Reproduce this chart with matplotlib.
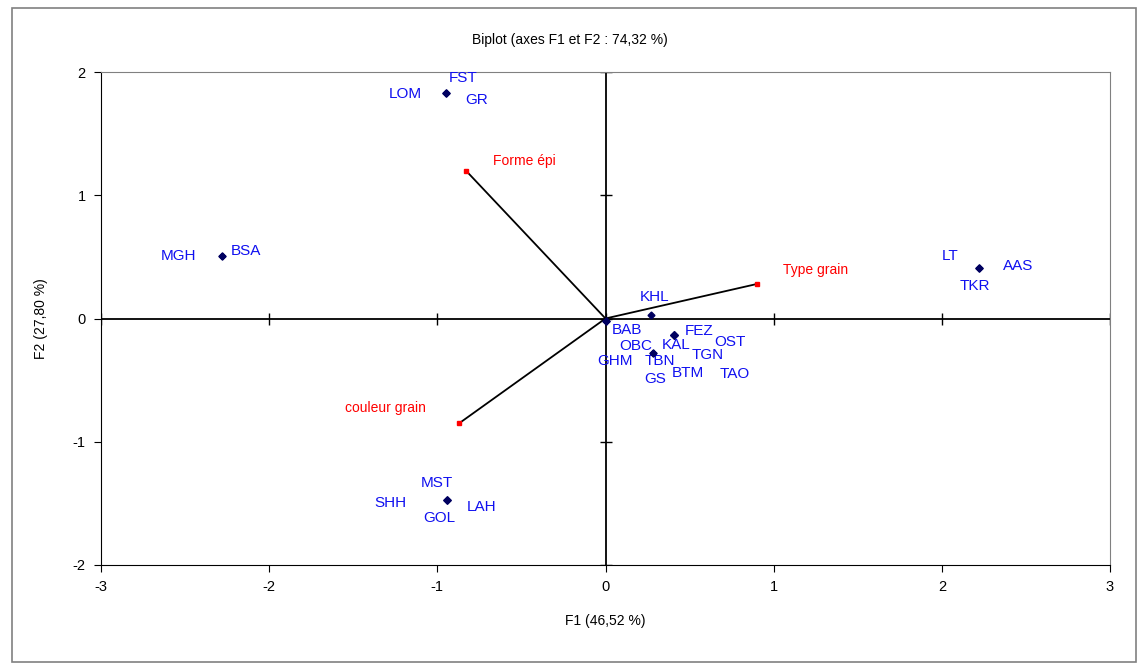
import matplotlib
matplotlib.use("Agg")
import matplotlib.pyplot as plt
from matplotlib.patches import Rectangle

plt.rcParams['font.family'] = ['Liberation Sans', 'DejaVu Sans']

# ---- data ----
obs_labels = ["LOM", "FST", "GR", "MGH", "BSA", "LT", "AAS", "TKR",
              "MST", "SHH", "GOL", "LAH", "KHL", "FEZ", "KAL", "OST",
              "TGN", "BTM", "TAO", "BAB", "OBC", "GHM", "TBN", "GS"]
obs_f1 = [-0.95, -0.95, -0.95, -2.28, -2.28, 2.22, 2.22, 2.22,
          -0.94, -0.94, -0.94, -0.94, 0.27, 0.41, 0.41, 0.41,
          0.41, 0.41, 0.41, 0.00, 0.00, 0.00, 0.28, 0.28]
obs_f2 = [1.83, 1.83, 1.83, 0.51, 0.51, 0.41, 0.41, 0.41,
          -1.47, -1.47, -1.47, -1.47, 0.03, -0.13, -0.13, -0.13,
          -0.13, -0.13, -0.13, -0.02, -0.02, -0.02, -0.28, -0.28]

var_labels = ["Forme épi", "Type grain", "couleur grain"]
var_f1 = [-0.83, 0.90, -0.87]
var_f2 = [1.20, 0.28, -0.85]

xticks = [-3, -2, -1, 0, 1, 2, 3]
yticks = [-2, -1, 0, 1, 2]

title = "Biplot (axes F1 et F2 : 74,32 %)"
xlabel = "F1 (46,52 %)"
ylabel = "F2 (27,80 %)"

# ---- layout (label offsets in pixels) ----
obs_offsets = {
    "LOM": (-40, -1), "FST": (17, 15), "GR": (31, -7),
    "MGH": (-44, 0), "BSA": (24, 5),
    "LT": (-29, 12), "AAS": (39, 2), "TKR": (-4, -18),
    "MST": (-11, 17), "SHH": (-57, -3), "GOL": (-8, -18), "LAH": (34, -7),
    "KHL": (4, 18),
    "FEZ": (25, 4), "KAL": (2, -10), "OST": (55, -7), "TGN": (33, -20),
    "BTM": (13, -38), "TAO": (60, -39),
    "BAB": (21, -9), "OBC": (30, -25), "GHM": (10, -40),
    "TBN": (7, -8), "GS": (3, -26),
}
var_offsets = {
    "Forme épi": (58, 10), "Type grain": (59, 14), "couleur grain": (-74, 15),
}

fig = plt.figure(figsize=(11.39, 6.68), dpi=100)
# outer frame
fig.patches.append(Rectangle((12 / 1139, 1 - 662 / 668), (1136 - 12) / 1139, (662 - 8) / 668,
                             transform=fig.transFigure, fill=False,
                             edgecolor='#808080', linewidth=1.2))

ax = fig.add_axes([101 / 1139, 1 - 565 / 668, (1110 - 101) / 1139, (565 - 72) / 668])
ax.set_xlim(-3, 3)
ax.set_ylim(-2, 2)

for s in ['top', 'right']:
    ax.spines[s].set_color('#808080')
for s in ['left', 'bottom']:
    ax.spines[s].set_color('black')
ax.set_xticks(xticks)
ax.set_yticks(yticks)
ax.set_xticklabels([str(t) for t in xticks])
ax.set_yticklabels([str(t) for t in yticks])
ax.tick_params(axis='both', direction='out', length=5, labelsize=10.5, pad=6)

# zero lines with small ticks
ax.axhline(0, color='black', linewidth=1.3, zorder=1)
ax.axvline(0, color='black', linewidth=1.3, zorder=1)
ax.plot(xticks, [0] * len(xticks), linestyle='none', marker='|', markersize=8,
        color='black', zorder=1)
ax.plot([0] * len(yticks), yticks, linestyle='none', marker='_', markersize=8,
        color='black', zorder=1)

# variable vectors
for lab, x, y in zip(var_labels, var_f1, var_f2):
    ax.plot([0, x], [0, y], color='black', linewidth=1.3, zorder=2)
    ax.plot([x], [y], marker='s', markersize=3, color='red', zorder=3)
    dx, dy = var_offsets[lab]
    ax.annotate(lab, (x, y), xytext=(dx, dy), textcoords='offset pixels',
                ha='center', va='center', color='red', fontsize=10)

# observations
ax.plot(obs_f1, obs_f2, linestyle='none', marker='D', markersize=3.5,
        color='#000060', zorder=4)
for lab, x, y in zip(obs_labels, obs_f1, obs_f2):
    dx, dy = obs_offsets[lab]
    ax.annotate(lab, (x, y), xytext=(dx, dy), textcoords='offset pixels',
                ha='center', va='center', color='#1010F0', fontsize=11)

fig.text(0.5, 1 - 40 / 668, title, ha='center', va='center', fontsize=10)
ax.set_xlabel(xlabel, fontsize=10, labelpad=14)
ax.set_ylabel(ylabel, fontsize=10, labelpad=18)

fig.savefig("out.png", dpi=100)
